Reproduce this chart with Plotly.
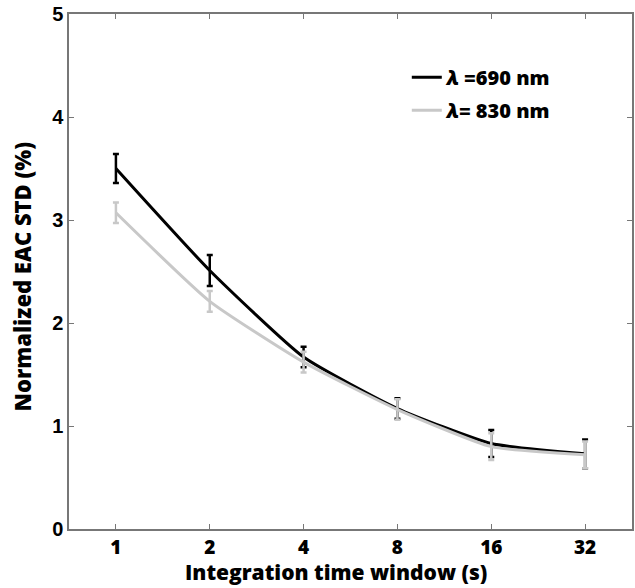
import plotly.graph_objects as go
import math

windows = [1, 2, 4, 8, 16, 32]
tick_labels = ["1", "2", "4", "8", "16", "32"]
std_690 = [3.50, 2.51, 1.67, 1.17, 0.83, 0.73]
err_690 = [0.14, 0.15, 0.10, 0.10, 0.13, 0.14]
std_830 = [3.07, 2.21, 1.62, 1.16, 0.80, 0.72]
err_830 = [0.10, 0.10, 0.10, 0.10, 0.13, 0.13]

fig = go.Figure()
fig.add_trace(go.Scatter(
    x=windows, y=std_690, mode="lines", name="<i>λ</i> =690 nm", legendgroup="a",
    line=dict(color="black", width=3, shape="spline", smoothing=0.5),
    error_y=dict(type="data", array=err_690, color="black", thickness=2.5, width=3),
))
fig.add_trace(go.Scatter(
    x=windows, y=std_830, mode="lines", name="<i>λ</i>= 830 nm", legendgroup="b",
    line=dict(color="#c8c8c8", width=3, shape="spline", smoothing=0.5),
    error_y=dict(type="data", array=err_830, color="#c8c8c8", thickness=2.5, width=3),
))

fig.update_layout(
    width=635, height=588,
    margin=dict(l=69, r=1, t=14, b=59),
    plot_bgcolor="white", paper_bgcolor="white",
    showlegend=True,
    legend=dict(x=0.6, y=0.915, xanchor="left", yanchor="top",
                bgcolor="rgba(0,0,0,0)", font=dict(family="Open Sans", size=20, color="black", weight=800),
                tracegroupgap=4, itemwidth=30),
    annotations=[
        dict(text="Integration time window (s)", xref="paper", yref="paper",
             x=0.474, y=-0.084, xanchor="center", yanchor="middle", showarrow=False,
             font=dict(family="Open Sans", size=21, color="black", weight=800)),
        dict(text="Normalized EAC STD (%)", xref="paper", yref="paper", textangle=-90,
             x=-0.083, y=0.491, xanchor="center", yanchor="middle", showarrow=False,
             font=dict(family="Open Sans", size=22, color="black", weight=800)),
    ],
)
fig.update_xaxes(
    type="log", range=[math.log10(2 ** -0.5), math.log10(2 ** 5.5)],
    tickmode="array", tickvals=windows, ticktext=tick_labels,
    ticks="inside", ticklen=5, tickcolor="#777", showline=True, linecolor="#777", linewidth=1.5,
    mirror="ticks", showgrid=False, zeroline=False,
    tickfont=dict(family="Open Sans", size=19, color="black", weight=800),
)
fig.update_yaxes(
    range=[0, 5], tickvals=[0, 1, 2, 3, 4, 5], ticktext=[str(v) for v in range(6)],
    ticks="inside", ticklen=5, tickcolor="#777", showline=True, linecolor="#777", linewidth=1.5,
    mirror="ticks", showgrid=False, zeroline=False,
    tickfont=dict(family="Liberation Sans", size=20, color="black", weight="bold"),
)
fig.write_html("out.html")
